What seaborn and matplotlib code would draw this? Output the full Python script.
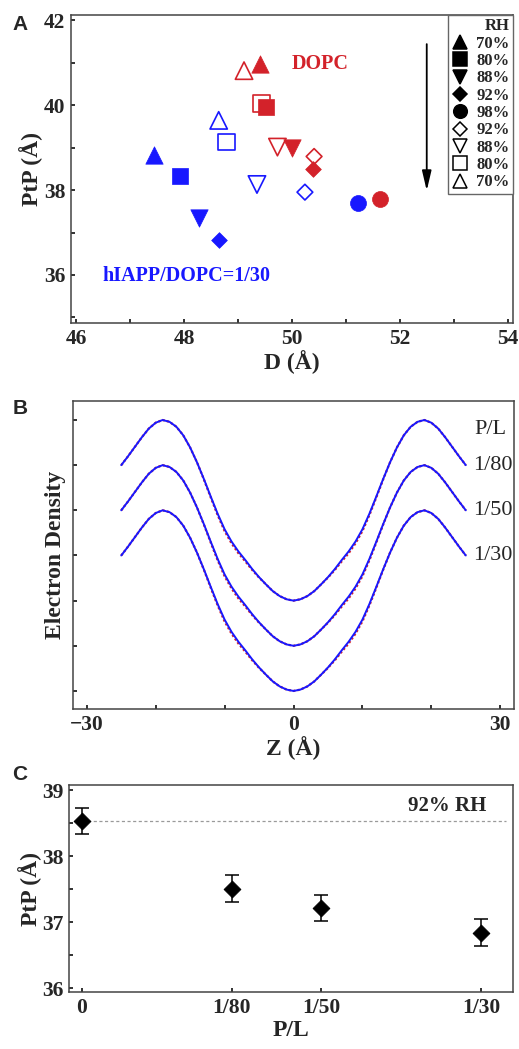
import matplotlib
matplotlib.use("Agg")
import pandas as pd
import matplotlib.pyplot as plt
from matplotlib.lines import Line2D
from matplotlib.ticker import MultipleLocator
import seaborn as sns

# ---- Panel A data: PtP vs D at each relative humidity ----
RH_LEVELS = ["70%", "80%", "88%", "92%", "98%"]
RH_MARKERS = ["^", "s", "v", "D", "o"]

# dehydration branch (filled), 70 -> 98 %
DOPC_D = [49.40, 49.52, 50.00, 50.39, 51.64]
DOPC_PTP = [40.97, 39.95, 38.99, 38.50, 37.78]
HIAPP_D = [47.44, 47.93, 48.28, 48.64, 51.22]
HIAPP_PTP = [38.83, 38.32, 37.33, 36.82, 37.70]

# back branch (open), 70 -> 92 %
DOPC_D_BACK = [49.11, 49.43, 49.73, 50.41]
DOPC_PTP_BACK = [40.81, 40.03, 39.01, 38.79]
HIAPP_D_BACK = [48.64, 48.79, 49.35, 50.24]
HIAPP_PTP_BACK = [39.64, 39.13, 38.13, 37.95]

LEGEND_LABELS = ["70%", "80%", "88%", "92%", "98%", "92%", "88%", "80%", "70%"]

# ---- Panel B data: electron density profiles (z = -25 .. 0, mirrored) ----
Z = list(range(-25, 26))
PROFILE_HALF = [3.00, 3.20, 3.41, 3.62, 3.81, 3.94, 4.00, 3.96, 3.85, 3.66,
                3.39, 3.06, 2.69, 2.30, 1.92, 1.58, 1.31, 1.09, 0.90, 0.70,
                0.52, 0.36, 0.21, 0.10, 0.03, 0.00]
FIT_HALF = [3.00, 3.20, 3.41, 3.62, 3.81, 3.94, 4.00, 3.96, 3.85, 3.66,
            3.39, 3.06, 2.68, 2.28, 1.89, 1.54, 1.27, 1.05, 0.87, 0.68,
            0.51, 0.36, 0.21, 0.10, 0.03, 0.00]
PROFILE = PROFILE_HALF + PROFILE_HALF[-2::-1]
FIT = FIT_HALF + FIT_HALF[-2::-1]
PL_NAMES = ["1/80", "1/50", "1/30"]
PL_SHIFT = [2, 1, 0]

# ---- Panel C data: PtP vs P/L at 92% RH ----
PL_VALUES = [0, 1 / 80, 1 / 50, 1 / 30]
PL_TICKLABELS = ["0", "1/80", "1/50", "1/30"]
PTP_C = [38.53, 37.51, 37.21, 36.84]
PTP_C_ERR = [0.20, 0.20, 0.20, 0.20]

RED = "#d3222a"
BLUE = "#1818ff"
SPINE = "#444444"

sns.set_style("ticks")
plt.rcParams["font.family"] = ["Liberation Serif", "DejaVu Serif"]
plt.rcParams["axes.unicode_minus"] = True

fig = plt.figure(figsize=(5.19, 10.49), dpi=100)
axA = fig.add_axes([0.1368, 0.6921, 0.8516, 0.2936])
axB = fig.add_axes([0.1407, 0.3241, 0.8497, 0.2936])
axC = fig.add_axes([0.1329, 0.0543, 0.8555, 0.1974])


def style_axes(ax):
    for sp in ax.spines.values():
        sp.set_visible(True)
        sp.set_color(SPINE)
        sp.set_linewidth(1.1)
    ax.tick_params(which="both", direction="in", length=3, width=1.3,
                   color="#222222", top=False, right=False,
                   labelsize=15.5, pad=4)
    for lab in ax.get_xticklabels() + ax.get_yticklabels():
        lab.set_fontweight("bold")


MS = {"^": 12.5, "v": 12.5, "s": 12, "o": 11.5, "D": 8}

# ---------------- Panel A ----------------
rows = []
for sample, color, d, p, db, pb in [
    ("DOPC", RED, DOPC_D, DOPC_PTP, DOPC_D_BACK, DOPC_PTP_BACK),
    ("hIAPP", BLUE, HIAPP_D, HIAPP_PTP, HIAPP_D_BACK, HIAPP_PTP_BACK),
]:
    for i, rh in enumerate(RH_LEVELS):
        rows.append(dict(sample=sample, color=color, rh=rh, marker=RH_MARKERS[i],
                         filled=True, D=d[i], PtP=p[i]))
    for i in range(len(db)):
        rows.append(dict(sample=sample, color=color, rh=RH_LEVELS[i], marker=RH_MARKERS[i],
                         filled=False, D=db[i], PtP=pb[i]))
dfA = pd.DataFrame(rows)

for (color, marker, filled), sub in dfA.groupby(["color", "marker", "filled"]):
    size = MS[marker] ** 2
    if filled:
        sns.scatterplot(data=sub, x="D", y="PtP", ax=axA, marker=marker, s=size,
                        color=color, edgecolor=color, linewidth=0.5, zorder=3)
    else:
        sns.scatterplot(data=sub, x="D", y="PtP", ax=axA, marker=marker, s=size,
                        facecolor="none", edgecolor=color, linewidth=1.2, zorder=3)

axA.set_xlim(45.9, 54.1)
axA.set_ylim(34.87, 42.12)
axA.xaxis.set_major_locator(MultipleLocator(2))
axA.xaxis.set_minor_locator(MultipleLocator(1))
axA.yaxis.set_major_locator(MultipleLocator(2))
axA.yaxis.set_minor_locator(MultipleLocator(1))
axA.set_xlabel("D (Å)", fontsize=17, fontweight="bold", labelpad=1)
axA.set_ylabel("PtP (Å)", fontsize=17, fontweight="bold", labelpad=1)
style_axes(axA)

axA.text(50.0, 40.97, "DOPC", color=RED, fontsize=14.5, fontweight="bold", va="center")
axA.text(46.49, 35.98, "hIAPP/DOPC=1/30", color=BLUE, fontsize=14.5,
         fontweight="bold", va="center")
axA.annotate("", xy=(52.5, 37.92), xytext=(52.5, 41.5),
             arrowprops=dict(arrowstyle="-|>,head_length=0.85,head_width=0.2",
                             color="black", lw=1.3, mutation_scale=14))

# legend: filled markers (going down), open markers (coming back)
handles = []
for i, lab in enumerate(LEGEND_LABELS):
    if i < 5:
        m = RH_MARKERS[i]
        fc = "black"
    else:
        m = RH_MARKERS[8 - i]
        fc = "none"
    handles.append(Line2D([], [], ls="none", marker=m, markersize=MS[m] * 0.85,
                          markerfacecolor=fc, markeredgecolor="black",
                          markeredgewidth=1.1))
leg = axA.legend(
    handles, LEGEND_LABELS, title="RH", loc="upper right",
    bbox_to_anchor=(1.0, 1.0), borderaxespad=0, frameon=True,
    fancybox=False, edgecolor="#666666", framealpha=1,
    handlelength=1.0, handletextpad=0.5, labelspacing=0.08, borderpad=0.2,
    prop=dict(family="Liberation Serif", weight="bold", size=12),
    title_fontproperties=dict(family="Liberation Serif", weight="bold", size=12))
leg._legend_box.align = "right"
leg.get_frame().set_linewidth(1.0)

# ---------------- Panel B ----------------
dfB = pd.DataFrame(
    [dict(pl=name, z=z, fit=f + s, dens=v + s)
     for name, s in zip(PL_NAMES, PL_SHIFT)
     for z, v, f in zip(Z, PROFILE, FIT)]
)
sns.lineplot(data=dfB, x="z", y="fit", units="pl", estimator=None, sort=False,
             ax=axB, color=RED, lw=1.6, linestyle=(0, (1, 1)))
sns.lineplot(data=dfB, x="z", y="dens", units="pl", estimator=None, sort=False,
             ax=axB, color=BLUE, lw=1.4)
axB.set_xlim(-32, 32)
axB.set_ylim(-0.4, 6.42)
axB.set_xticks([-30, -20, -10, 0, 10, 20, 30])
axB.set_xticklabels(["\u221230", "", "", "0", "", "", "30"])
axB.set_yticks(range(0, 7))
axB.set_yticklabels([])
axB.set_xlabel("Z (Å)", fontsize=17, fontweight="bold", labelpad=1)
axB.set_ylabel("Electron Density", fontsize=17, fontweight="bold", labelpad=1)
style_axes(axB)

axB.text(26.2, 5.8, "P/L", fontsize=16, va="center", ha="left")
for name, s in zip(PL_NAMES, PL_SHIFT):
    axB.text(26.0, PROFILE[-1] + s, name, fontsize=16, va="center", ha="left")

# ---------------- Panel C ----------------
dfC = pd.DataFrame(dict(pl=PL_VALUES, ptp=PTP_C, err=PTP_C_ERR))
axC.errorbar(dfC["pl"], dfC["ptp"], yerr=dfC["err"], fmt="none",
             ecolor="black", elinewidth=1.1, capsize=5, capthick=1.1, zorder=2)
sns.scatterplot(data=dfC, x="pl", y="ptp", ax=axC, marker="D", s=8.5 ** 2,
                color="black", edgecolor="black", zorder=3)
axC.axhline(PTP_C[0], xmin=0.03, xmax=0.985, color="#9a9a9a", lw=0.9,
            linestyle=(0, (2.5, 2)), zorder=1)
axC.text(0.03375, 38.76, "92% RH", fontsize=15, fontweight="bold",
         ha="right", va="center")
axC.set_xlim(-0.00109, 0.036)
axC.set_ylim(35.94, 39.08)
axC.set_xticks(PL_VALUES)
axC.set_xticklabels(PL_TICKLABELS)
axC.yaxis.set_major_locator(MultipleLocator(1))
axC.yaxis.set_minor_locator(MultipleLocator(0.5))
axC.set_xlabel("P/L", fontsize=17, fontweight="bold", labelpad=2)
axC.set_ylabel("PtP (Å)", fontsize=17, fontweight="bold", labelpad=0)
style_axes(axC)

for y, lab in [(24, "A"), (408, "B"), (775, "C")]:
    fig.text(20 / 519, 1 - y / 1049, lab, fontsize=15, fontweight="bold",
             family="Liberation Sans", ha="center", va="center")

fig.savefig("out.png", dpi=100)
